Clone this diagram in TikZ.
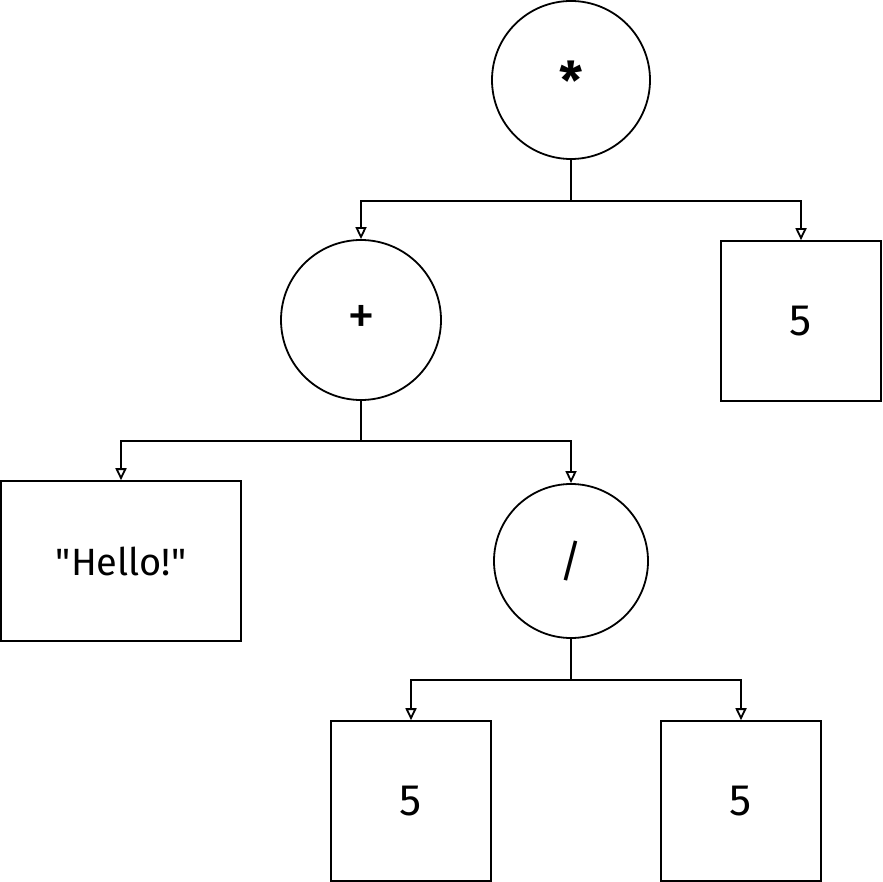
\documentclass[tikz,border=0pt]{standalone}
\usepackage{fontspec}
\setmainfont{Fira Sans}[Ligatures=TeXOff]
\usetikzlibrary{arrows.meta}
\begin{document}
\begin{tikzpicture}[x=1pt,y=-1pt,
  big/.style={font=\fontsize{44}{50}\selectfont},
  circ/.style={draw=black,line width=1.8pt,circle,inner sep=0pt,big},
  box/.style={draw=black,line width=1.6pt,rectangle,inner sep=0pt,minimum width=160pt,minimum height=160pt,big},
  arr/.style={draw=black,line width=1.8pt,-{Triangle[open,length=12pt,width=11pt]}}]
\useasboundingbox (0,0) rectangle (882,882);
\node[circ,minimum size=158pt] (mul) at (571,80) {\raisebox{-0.3em}{\fontsize{52}{56}\selectfont\textbf{*}}};
\node[circ,minimum size=160pt] (add) at (361,320) {\fontsize{56}{60}\selectfont +};
\node[box] (five1) at (801,321) {5};
\node[box,minimum width=240pt,font=\fontsize{38}{44}\selectfont] (hello) at (121,561) {"Hello!"};
\node[circ,minimum size=154pt] (div) at (571,561) {/};
\node[box] (five2) at (411,801) {5};
\node[box] (five3) at (741,801) {5};
\draw[arr] (mul.south) -- ++(0,41) -| (add.north);
\draw[arr] (mul.south) -- ++(0,41) -| (five1.north);
\draw[arr] (add.south) -- ++(0,40) -| (hello.north);
\draw[arr] (add.south) -- ++(0,40) -| (div.north);
\draw[arr] (div.south) -- ++(0,41) -| (five2.north);
\draw[arr] (div.south) -- ++(0,41) -| (five3.north);
\end{tikzpicture}
\end{document}
